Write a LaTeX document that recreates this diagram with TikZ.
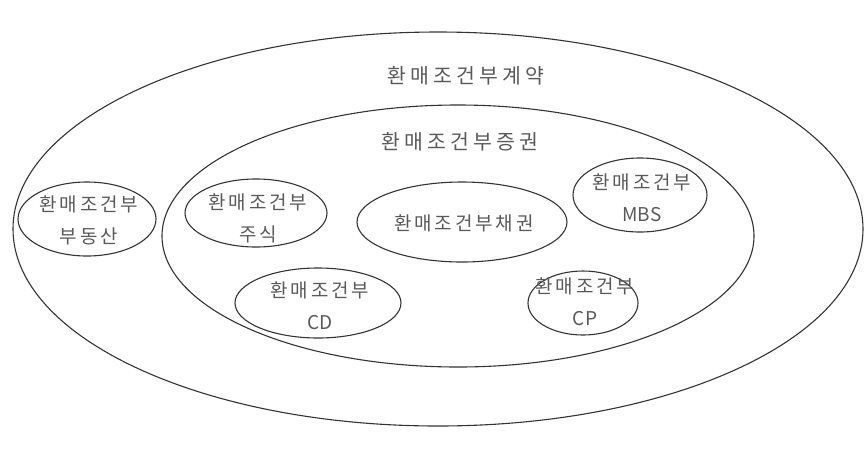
\documentclass[tikz,border=0pt]{standalone}
\usepackage{fontspec}
\setmainfont{Noto Sans CJK KR}
\newfontfamily\itemfont[LetterSpace=15]{Noto Sans CJK KR}
\newfontfamily\titlefont[LetterSpace=20]{Noto Sans CJK KR}
\usetikzlibrary{shapes.geometric}

\begin{document}
\begin{tikzpicture}[
    x=1pt, y=-1pt,
    ringstyle/.style  = {draw=black!80,
                         line width=1.1pt,
                         ellipse,
                         inner sep=0pt},
    textstyle/.style  = {align=center,
                         inner sep=0pt,
                         text=black!65,
                         font=\itemfont\fontsize{19}{32}\selectfont},
    titlestyle/.style = {text=black!65,
                         inner sep=0pt,
                         font=\titlefont\fontsize{20.5}{22}\selectfont}
]
\useasboundingbox (0,0) rectangle (865,451);

% rings
\node (contract) [ringstyle, minimum width=850, minimum height=394] at (438,229) {};
\node (security) [ringstyle, minimum width=592, minimum height=262] at (458,236) {};
\node (estate)   [ringstyle, minimum width=138, minimum height=74]  at (87,219)  {};
\node (stock)    [ringstyle, minimum width=142, minimum height=68]  at (256,213) {};
\node (bond)     [ringstyle, minimum width=210, minimum height=80]  at (462,222) {};
\node (mbs)      [ringstyle, minimum width=134, minimum height=74]  at (640,195) {};
\node (cd)       [ringstyle, minimum width=166, minimum height=70]  at (318,303) {};
\node (cp)       [ringstyle, minimum width=110, minimum height=64]  at (583,303) {};

% texts
\node (tcontract) [titlestyle] at (466,76)  {환매조건부계약};
\node (tsecurity) [titlestyle] at (460,142) {환매조건부증권};

\node (testate) [textstyle] at (89,220)  {환매조건부\\부동산};
\node (tstock)  [textstyle] at (258,218) {환매조건부\\주식};
\node (tbond)   [textstyle] at (464,223) {환매조건부채권};
\node (tmbs)    [textstyle] at (642,198) {환매조건부\\{\rmfamily MBS}};
\node (tcd)     [textstyle] at (320,306) {환매조건부\\{\rmfamily CD}};
\node (tcp)     [textstyle] at (585,302) {환매조건부\\{\rmfamily CP}};

\end{tikzpicture}
\end{document}
